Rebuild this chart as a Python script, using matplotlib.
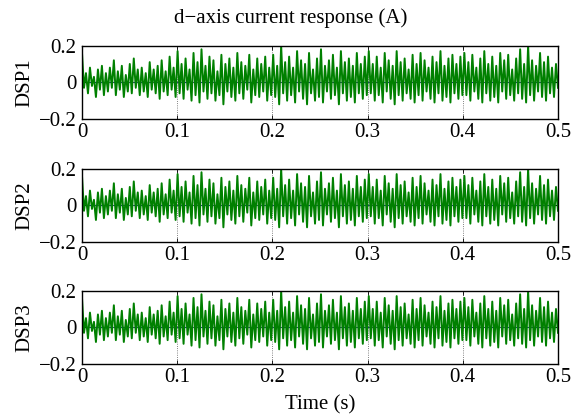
import matplotlib
matplotlib.use("Agg")
import matplotlib.pyplot as plt
import numpy as np

plt.rcParams.update(
    {
        "font.family": ["Liberation Serif", "DejaVu Serif"],
        "font.size": 15,
        "xtick.direction": "in",
        "ytick.direction": "in",
        "xtick.top": True,
        "ytick.right": True,
        "axes.linewidth": 1.0,
    }
)

# peak / trough values of the d-axis current (A), read left to right
peaks = [
    0.16, 0.05, 0.08, 0.03, 0.07, 0.09, 0.05, 0.08, 0.12, 0.06, 0.09, 0.04,
    0.10, 0.13, 0.07, 0.08, 0.05, 0.11, 0.07, 0.09, 0.12, 0.06, 0.14, 0.08,
    0.17, 0.10, 0.13, 0.07, 0.16, 0.11, 0.18, 0.09, 0.14, 0.12, 0.06, 0.15,
    0.10, 0.13, 0.08, 0.16, 0.11, 0.09, 0.15, 0.07, 0.13, 0.10, 0.14, 0.08,
    0.15, 0.09, 0.20, 0.11, 0.14, 0.08, 0.17, 0.12, 0.10, 0.16, 0.07, 0.13,
    0.18, 0.09, 0.12, 0.15, 0.08, 0.17, 0.11, 0.13, 0.09, 0.16, 0.10, 0.14,
    0.17, 0.10, 0.14, 0.08, 0.16, 0.12, 0.09, 0.17, 0.11, 0.13, 0.07, 0.15,
    0.10, 0.16, 0.12, 0.08, 0.14, 0.11, 0.17, 0.09, 0.13, 0.15, 0.10, 0.14,
    0.16, 0.11, 0.15, 0.08, 0.13, 0.17, 0.10, 0.14, 0.09, 0.16, 0.12, 0.15,
    0.07, 0.13, 0.18, 0.10, 0.20, 0.12, 0.09, 0.16, 0.11, 0.14, 0.08, 0.10,
]
troughs = [
    -0.03, -0.06, -0.02, -0.08, -0.04, -0.07, -0.05, -0.03, -0.07, -0.04, -0.08, -0.05,
    -0.06, -0.03, -0.07, -0.05, -0.08, -0.04, -0.06, -0.09, -0.05, -0.07, -0.04, -0.08,
    -0.06, -0.09, -0.04, -0.10, -0.07, -0.11, -0.05, -0.09, -0.06, -0.10, -0.07, -0.12,
    -0.05, -0.08, -0.10, -0.06, -0.09, -0.04, -0.11, -0.07, -0.08, -0.05, -0.10, -0.07,
    -0.08, -0.12, -0.06, -0.10, -0.07, -0.11, -0.05, -0.09, -0.12, -0.06, -0.10, -0.08,
    -0.11, -0.05, -0.09, -0.07, -0.12, -0.06, -0.10, -0.08, -0.11, -0.06, -0.09, -0.07,
    -0.06, -0.10, -0.07, -0.11, -0.05, -0.09, -0.12, -0.07, -0.10, -0.06, -0.09, -0.11,
    -0.07, -0.10, -0.05, -0.09, -0.11, -0.06, -0.10, -0.08, -0.11, -0.06, -0.09, -0.07,
    -0.07, -0.10, -0.05, -0.09, -0.11, -0.06, -0.10, -0.08, -0.11, -0.05, -0.09, -0.07,
    -0.10, -0.06, -0.09, -0.11, -0.07, -0.10, -0.05, -0.08, -0.10, -0.06, -0.08, -0.03,
]

dsp_names = ["DSP1", "DSP2", "DSP3"]
x_ticks = [0, 0.1, 0.2, 0.3, 0.4, 0.5]
y_ticks = [-0.2, 0, 0.2]

signal = np.ravel(np.column_stack([peaks, troughs]))
t = np.linspace(0, 0.5, len(signal))

fig = plt.figure(figsize=(5.73, 4.17), dpi=100)
bottoms = [0.7146, 0.4197, 0.1271]

for name, b in zip(dsp_names, bottoms):
    ax = fig.add_axes([0.1431, b, 0.8307, 0.176])
    ax.plot(t, np.zeros_like(t), color="#1a1aa6", linewidth=0.8, zorder=1)
    ax.plot(t, signal, color="#008000", linewidth=1.4, zorder=2)
    ax.set_xlim(0, 0.5)
    ax.set_ylim(-0.2, 0.2)
    ax.set_xticks(x_ticks)
    ax.set_xticklabels(["0", "0.1", "0.2", "0.3", "0.4", "0.5"])
    ax.set_yticks(y_ticks)
    ax.set_yticklabels(["\u22120.2", "0", "0.2"])
    ax.tick_params(axis="x", length=3, width=0.6, pad=3)
    ax.tick_params(axis="y", length=3, width=0.6, pad=4)
    ax.grid(True, linestyle=":", color="0.35", linewidth=0.6)
    ax.set_ylabel(name, labelpad=3)
    if name == "DSP3":
        ax.set_xlabel("Time (s)", labelpad=6)

fig.text(0.508, 0.957, "d\u2212axis current response (A)", ha="center", va="center",
         fontsize=15)

fig.savefig("out.png", dpi=100)
